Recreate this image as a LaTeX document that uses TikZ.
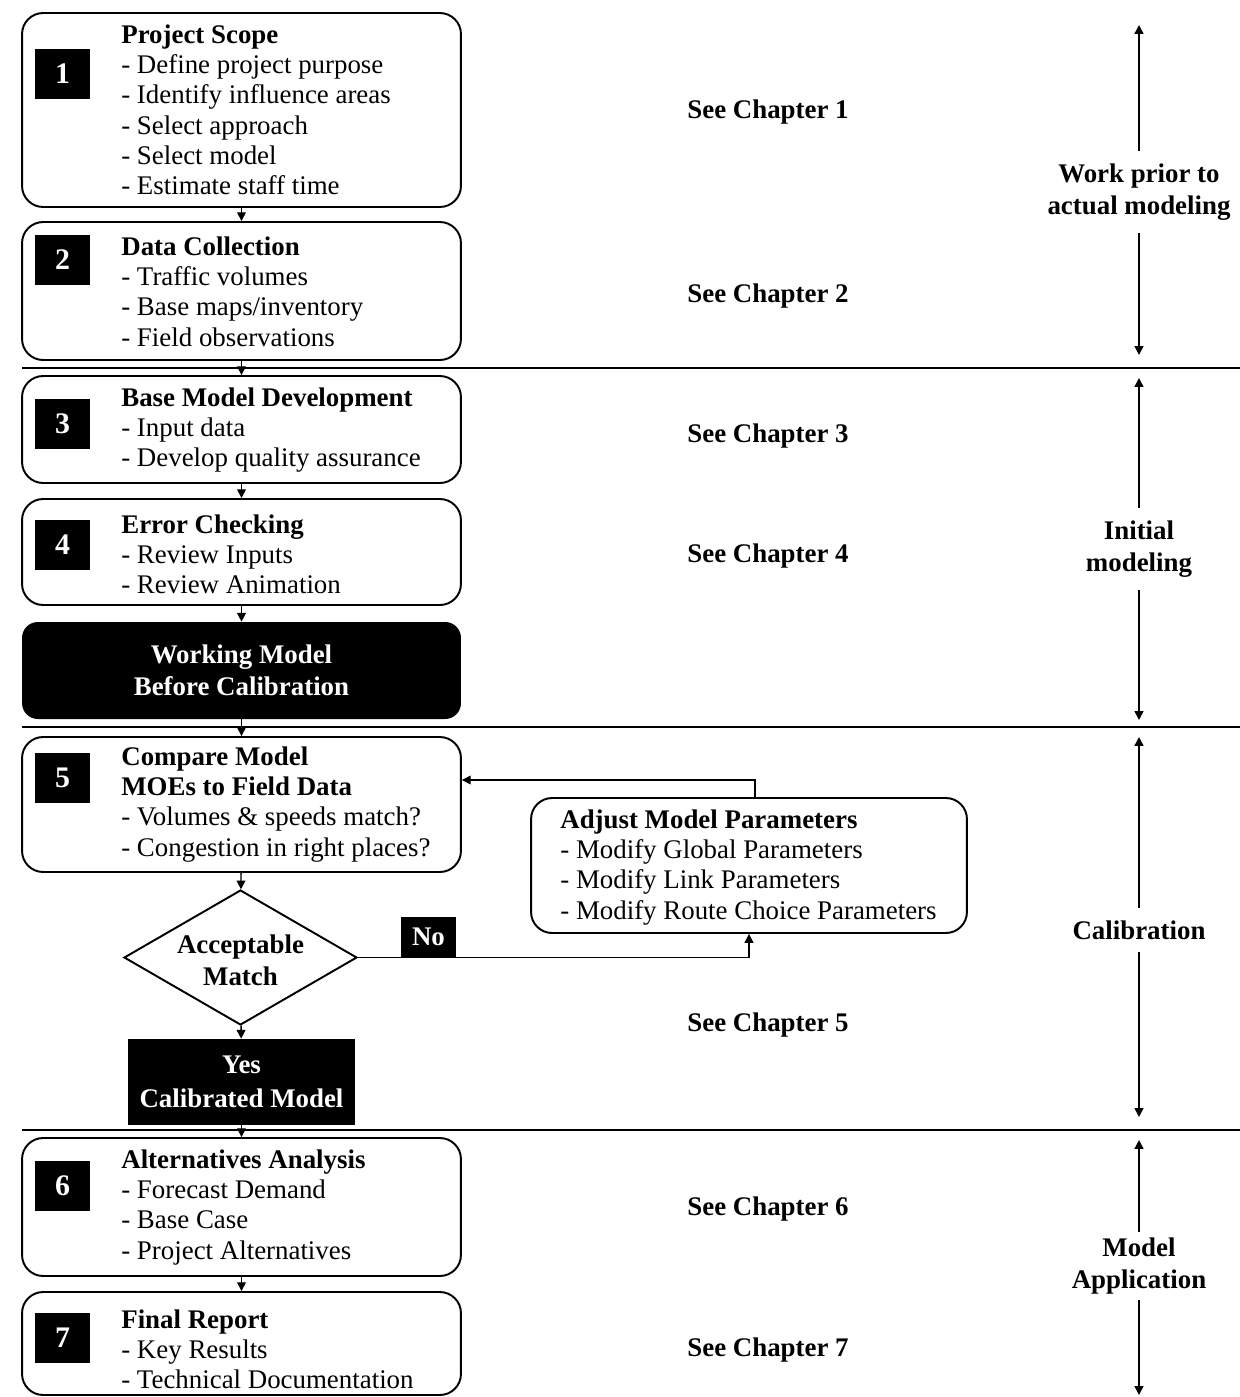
\documentclass[tikz,border=0pt]{standalone}
\usepackage{fontspec}
\setmainfont{Liberation Serif}
\usetikzlibrary{shapes.geometric,arrows.meta}

\tikzset{
  stage/.style={draw, line width=1.1pt, rounded corners=12pt, minimum width=8.78cm},
  numbox/.style={fill=black, text=white, font=\fontsize{17}{20}\selectfont\bfseries,
    minimum width=1.1cm, minimum height=1cm, inner sep=0pt},
  stagetext/.style={anchor=north west, align=left, inner sep=0pt,
    font=\fontsize{15.3}{17.3}\selectfont},
  blackbox/.style={fill=black, text=white, align=center,
    font=\fontsize{15.3}{18.5}\selectfont\bfseries},
  chapter/.style={font=\fontsize{15.3}{17}\selectfont\bfseries},
  phase/.style={font=\fontsize{15.3}{18}\selectfont\bfseries, align=center, inner sep=7pt},
  flow/.style={-{Triangle[length=5pt,width=5pt]}, line width=0.8pt},
  divider/.style={line width=1.1pt},
}

\begin{document}
\begin{tikzpicture}[x=0.02cm,y=-0.02cm]
\useasboundingbox (0,0) rectangle (1240,1397);

% Stage boxes on the left
\node[stage, minimum height=3.88cm] (s1) at (241.5,110) {};
\node[numbox] (n1) at (62.5,74) {1};
\node[stagetext] (t1) at (121,24) {\textbf{Project Scope}\\- Define project purpose\\
  - Identify influence areas\\- Select approach\\- Select model\\- Estimate staff time};

\node[stage, minimum height=2.76cm] (s2) at (241.5,291) {};
\node[numbox] (n2) at (62.5,260) {2};
\node[stagetext] (t2) at (121,236) {\textbf{Data Collection}\\- Traffic volumes\\
  - Base maps/inventory\\- Field observations};

\node[stage, minimum height=2.14cm] (s3) at (241.5,429.5) {};
\node[numbox] (n3) at (62.5,424) {3};
\node[stagetext] (t3) at (121,387) {\textbf{Base Model Development}\\- Input data\\
  - Develop quality assurance};

\node[stage, minimum height=2.12cm] (s4) at (241.5,552) {};
\node[numbox] (n4) at (62.5,545) {4};
\node[stagetext] (t4) at (121,514) {\textbf{Error Checking}\\- Review Inputs\\
  - Review Animation};

\node[blackbox, rounded corners=9pt, minimum width=8.78cm, minimum height=1.94cm]
  (wm) at (241.5,670.5) {Working Model\\Before Calibration};

\node[stage, minimum height=2.7cm] (s5) at (241.5,804.5) {};
\node[numbox] (n5) at (62.5,778) {5};
\node[stagetext] (t5) at (121,746) {\textbf{Compare Model}\\\textbf{MOEs to Field Data}\\
  - Volumes \& speeds match?\\- Congestion in right places?};

\node[draw, line width=1.1pt, diamond, minimum width=4.66cm, minimum height=2.7cm]
  (acc) at (240.5,957.5) {};
\node[align=center, font=\fontsize{15.3}{18}\selectfont\bfseries]
  (acct) at (240.5,960) {Acceptable\\Match};

\node[blackbox, minimum width=4.54cm, minimum height=1.72cm, font=\fontsize{15.3}{19.5}\selectfont\bfseries]
  (yes) at (241.5,1082) {Yes\\Calibrated Model};

\node[stage, minimum height=2.76cm] (s6) at (241.5,1207) {};
\node[numbox] (n6) at (62.5,1186) {6};
\node[stagetext] (t6) at (121,1149) {\textbf{Alternatives Analysis}\\- Forecast Demand\\
  - Base Case\\- Project Alternatives};

\node[stage, minimum height=2.06cm] (s7) at (241.5,1343.5) {};
\node[numbox] (n7) at (62.5,1338) {7};
\node[stagetext] (t7) at (121,1309) {\textbf{Final Report}\\- Key Results\\
  - Technical Documentation};

% Calibration loop
\node[stage, minimum width=8.72cm, minimum height=2.7cm] (adj) at (749,865.5) {};
\node[stagetext] (ta) at (560,809) {\textbf{Adjust Model Parameters}\\
  - Modify Global Parameters\\- Modify Link Parameters\\- Modify Route Choice Parameters};
\node[blackbox, minimum width=1.1cm, minimum height=0.8cm, inner sep=0pt] (no) at (428.5,937) {No};

% Flow between the stages
\draw[flow] (s1) -- (s2);
\draw[flow] (s2) -- (s3);
\draw[flow] (s3) -- (s4);
\draw[flow] (s4) -- (wm);
\draw[flow] (wm) -- (s5);
\draw[flow] (s5) -- (acc);
\draw[flow] (acc) -- (yes);
\draw[flow] (yes) -- (s6);
\draw[flow] (s6) -- (s7);
\draw[flow] (acc.east) -| (adj.south);
\coordinate (back) at (755,780);
\draw[flow] (adj.north -| back) |- (s5.east |- back);

% Phase dividers
\draw[divider] (22,368) -- (1240,368);
\draw[divider] (22,727) -- (1240,727);
\draw[divider] (22,1130) -- (1240,1130);

% Chapter references
\node[chapter] (c1) at (768,112) {See Chapter 1};
\node[chapter] (c2) at (768,296) {See Chapter 2};
\node[chapter] (c3) at (768,436) {See Chapter 3};
\node[chapter] (c4) at (768,556) {See Chapter 4};
\node[chapter] (c5) at (768,1025) {See Chapter 5};
\node[chapter] (c6) at (768,1209) {See Chapter 6};
\node[chapter] (c7) at (768,1350) {See Chapter 7};

% Phases on the right
\node[phase] (ph1) at (1139,192) {Work prior to\\actual modeling};
\coordinate (ph1t) at (1139,25);
\coordinate (ph1b) at (1139,355);
\draw[flow] (ph1) -- (ph1t);
\draw[flow] (ph1) -- (ph1b);

\node[phase] (ph2) at (1139,549) {Initial\\modeling};
\coordinate (ph2t) at (1139,378);
\coordinate (ph2b) at (1139,720);
\draw[flow] (ph2) -- (ph2t);
\draw[flow] (ph2) -- (ph2b);

\node[phase] (ph3) at (1139,930) {Calibration};
\coordinate (ph3t) at (1139,737);
\coordinate (ph3b) at (1139,1117);
\draw[flow] (ph3) -- (ph3t);
\draw[flow] (ph3) -- (ph3b);

\node[phase, inner sep=3pt] (ph4) at (1139,1266) {Model\\Application};
\coordinate (ph4t) at (1139,1140);
\coordinate (ph4b) at (1139,1395);
\draw[flow] (ph4) -- (ph4t);
\draw[flow] (ph4) -- (ph4b);

\end{tikzpicture}
\end{document}
